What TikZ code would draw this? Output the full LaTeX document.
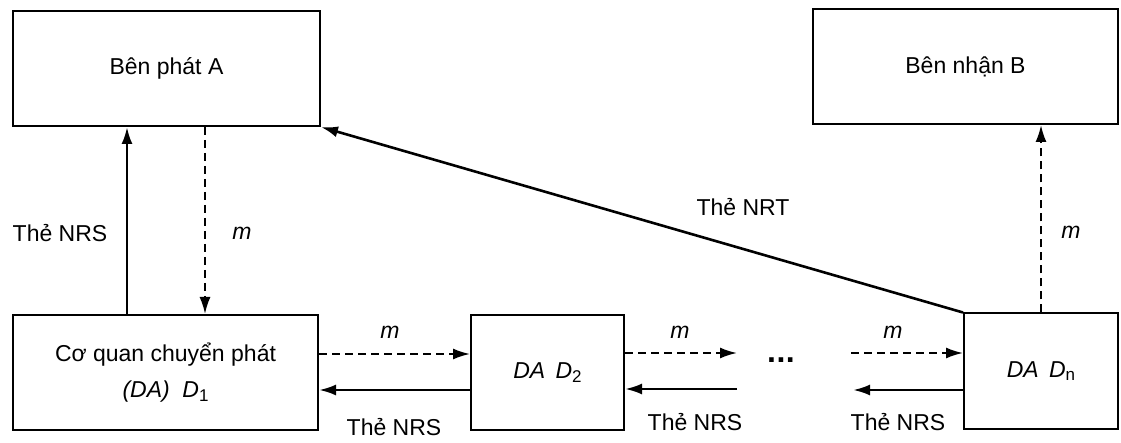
\documentclass[tikz,border=0pt]{standalone}
\usepackage{fontspec}
\setmainfont{Liberation Sans}
\usetikzlibrary{arrows.meta}
\newcommand{\subidx}[1]{\raisebox{-0.3ex}{\fontsize{17}{17}\selectfont #1}}
\begin{document}
\begin{tikzpicture}[x=1pt,y=-1pt,
  every node/.style={font=\fontsize{23}{36}\selectfont},
  party/.style={draw,line width=2pt,inner sep=0pt,minimum height=115pt,align=center},
  tip/.style={-{Latex[length=17pt,width=11pt]}},
  token/.style={tip,line width=2.6pt},
  msg/.style={tip,line width=2pt,dash pattern=on 8pt off 5pt},
  lbl/.style={inner sep=0pt}]
\useasboundingbox (0,0) rectangle (1121,443);

% parties and delivery agents
\node[party,minimum width=307pt] (A) at (166.5,68.5) {Bên phát A};
\node[party,minimum width=305pt] (B) at (965.5,66.5) {Bên nhận B};
\node[party,minimum width=305pt] (D1) at (165.5,372.5)
  {Cơ quan chuyển phát\\ \textit{(DA)}\hspace{0.55em}\textit{D}\subidx{1}};
\node[party,minimum width=153pt] (D2) at (547.5,372.5)
  {\textit{DA}\hspace{0.45em}\textit{D}\subidx{2}};
\node[party,minimum width=154pt] (Dn) at (1041,371)
  {\textit{DA}\hspace{0.45em}\textit{D}\subidx{n}};

% free ends of the open links around the ellipsis
\coordinate (xa) at (127,0);
\coordinate (xm) at (205,0);
\coordinate (o2m) at (737,353);
\coordinate (o2t) at (737,389);
\coordinate (onm) at (851,353);
\coordinate (ont) at (853,390);

% A <-> D1
\draw[token] (D1.north -| xa) -- (A.south -| xa);
\draw[msg] (A.south -| xm) -- (D1.north -| xm);
\node[lbl] (l1) at (60,233) {Thẻ NRS};
\node[lbl] (l2) at (242,233) {\textit{m}};

% Dn -> A (NRT) and Dn -> B
\draw[token] (Dn.north west) -- (A.south east);
\node[lbl] (l3) at (743,207) {Thẻ NRT};
\draw[msg] (Dn.north) -- (Dn.north |- B.south);
\node[lbl] (l4) at (1071,232) {\textit{m}};

% D1 <-> D2
\draw[msg] (D1.east |- 0,354) -- (D2.west |- 0,354);
\draw[token] (D2.west |- 0,390) -- (D1.east |- 0,390);
\node[lbl] (l5) at (390,332) {\textit{m}};
\node[lbl] (l6) at (394,427) {Thẻ NRS};

% D2 -> ...
\draw[msg] (D2.east |- o2m) -- (o2m);
\draw[token] (o2t) -- (D2.east |- o2t);
\node[lbl] (l7) at (680,332) {\textit{m}};
\node[lbl] (l8) at (695,422) {Thẻ NRS};

\node[lbl,font=\fontsize{32}{32}\selectfont\bfseries] (dots) at (781,360) {.\kern0.5pt.\kern0.5pt.};

% ... -> Dn
\draw[msg] (onm) -- (Dn.west |- onm);
\draw[token] (Dn.west |- ont) -- (ont);
\node[lbl] (l9) at (893,332) {\textit{m}};
\node[lbl] (l10) at (898,422) {Thẻ NRS};
\end{tikzpicture}
\end{document}
